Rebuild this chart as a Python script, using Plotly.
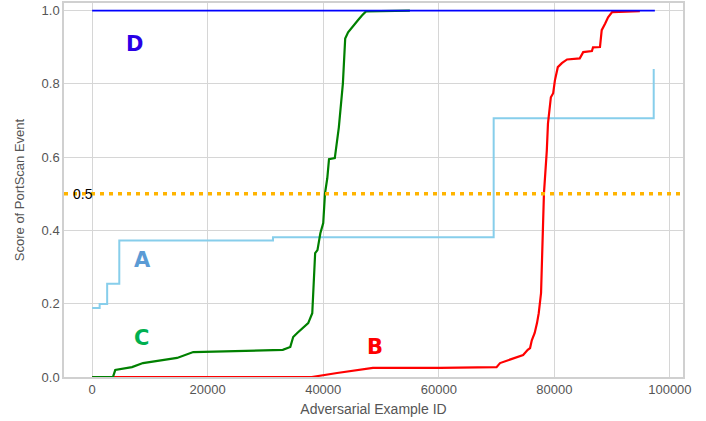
import plotly.graph_objects as go

# Sorted scores per model along the adversarial example index
x_a = [0, 1300, 2600, 4700, 31300, 69500, 97200]
y_a = [0.188, 0.199, 0.254, 0.372, 0.381, 0.706, 0.84]

x_b = [0, 38000, 42400, 45800, 48600, 60200, 70000, 70600, 72800, 74600, 75400, 75800,
       76100, 76600, 77000, 77300, 77700, 78000, 78200, 78700, 78900, 79400, 79800, 80100,
       80600, 81300, 82200, 84400, 85000, 86500, 86700, 87900, 88200, 88800, 89300, 90000, 94800]
y_b = [0, 0, 0.011, 0.019, 0.025, 0.025, 0.027, 0.038, 0.05, 0.06, 0.074, 0.079,
       0.10, 0.12, 0.147, 0.174, 0.229, 0.392, 0.50, 0.618, 0.692, 0.763, 0.774, 0.809,
       0.845, 0.856, 0.866, 0.869, 0.886, 0.889, 0.899, 0.90, 0.946, 0.964, 0.981, 0.995, 0.998]

x_c = [0, 3600, 4000, 6900, 8800, 11800, 14700, 17500, 33000, 34300, 34800, 35500, 36500,
       37400, 38100, 38600, 39000, 39500, 40000, 40300, 40700, 41000, 42000, 42400, 42700,
       43400, 43600, 43800, 44300, 45200, 46000, 46700, 47400, 55000]
y_c = [0, 0, 0.019, 0.027, 0.038, 0.046, 0.052, 0.068, 0.074, 0.082, 0.109, 0.12, 0.133,
       0.147, 0.174, 0.338, 0.346, 0.392, 0.42, 0.5, 0.542, 0.594, 0.597, 0.646, 0.681,
       0.80, 0.859, 0.923, 0.94, 0.959, 0.973, 0.986, 0.997, 0.999]

x_d = [0, 97400]
y_d = [0.999, 0.999]

threshold = 0.5

# label positions (data coords)
labels = ["A", "B", "C", "D"]
label_x = [8800, 49000, 8500, 7400]
label_y = [0.32, 0.082, 0.106, 0.907]
label_colors = ["#5b9bd5", "#ff0000", "#00b050", "#2a00e6"]

fig = go.Figure()

fig.add_trace(go.Scatter(x=x_a, y=y_a, mode="lines", line_shape="hv",
                         line=dict(color="#87ceeb", width=2), name="A"))
fig.add_trace(go.Scatter(x=x_b, y=y_b, mode="lines",
                         line=dict(color="#ff0000", width=2.2), name="B"))
fig.add_trace(go.Scatter(x=x_c, y=y_c, mode="lines",
                         line=dict(color="#008000", width=2.2), name="C"))
fig.add_trace(go.Scatter(x=x_d, y=y_d, mode="lines",
                         line=dict(color="#0000ff", width=1.8), name="D"))

# threshold line across the whole axis
fig.add_shape(type="line", xref="paper", x0=0, x1=1, yref="y", y0=threshold, y1=threshold,
              line=dict(color="#ffb400", width=3.5, dash="4px,5px"))
fig.add_annotation(x=-1600, y=threshold, text="0.5", showarrow=False,
                   font=dict(family="Liberation Sans", size=14, color="black"))

for t, lx, ly, c in zip(labels, label_x, label_y, label_colors):
    fig.add_annotation(x=lx, y=ly, text="<b>" + t + "</b>", showarrow=False,
                       font=dict(family="DejaVu Sans", size=21, color=c))

fig.update_layout(
    width=706, height=421,
    margin=dict(l=64, r=23, t=3, b=44),
    plot_bgcolor="white", paper_bgcolor="white",
    showlegend=False,
    font=dict(family="Liberation Sans", size=13, color="#555555"),
)
fig.update_xaxes(range=[-4870, 102270], tickvals=[0, 20000, 40000, 60000, 80000, 100000],
                 tickformat="d", showgrid=True, gridcolor="#d6d6d6", gridwidth=1,
                 zeroline=False, showline=True, mirror=True, linecolor="#d0d0d0", linewidth=1.5,
                 ticks="", automargin=False,
                 title=dict(text="Adversarial Example ID", standoff=8,
                            font=dict(size=14, color="#555555")))
fig.update_yaxes(range=[0, 1.02], tickvals=[0, 0.2, 0.4, 0.6, 0.8, 1.0], tickformat=".1f",
                 showgrid=True, gridcolor="#d6d6d6", gridwidth=1,
                 zeroline=False, showline=True, mirror=True, linecolor="#d0d0d0", linewidth=1.5,
                 ticks="", automargin=False,
                 title=dict(text="Score of PortScan Event", standoff=14,
                            font=dict(size=13, color="#555555")))

# page body has a default 8px margin; drop it so the figure sits at the window corner
fig.write_html("out.html", config={"displayModeBar": False},
               post_script="document.body.style.margin='0';")
